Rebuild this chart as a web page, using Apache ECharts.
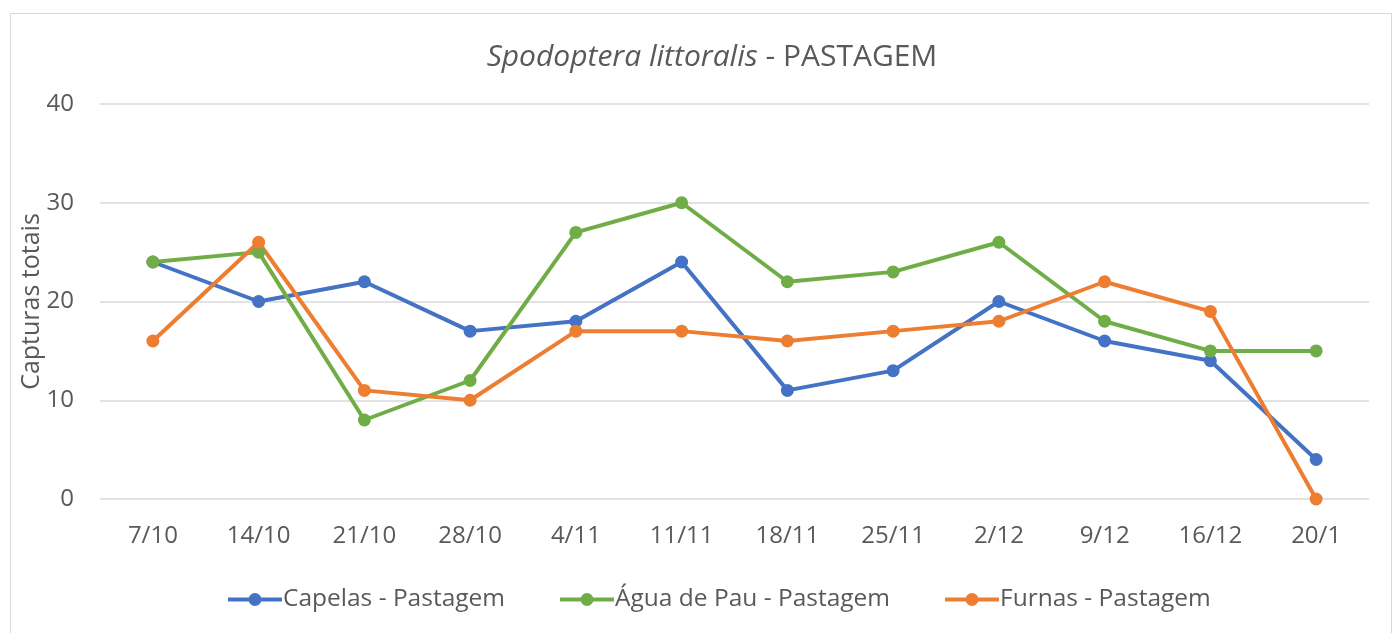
<!DOCTYPE html>
<html>
<head>
<meta charset="utf-8">
<script src="https://cdn.jsdelivr.net/npm/echarts@6/dist/echarts.min.js"></script>
<style>
  html, body { margin: 0; padding: 0; background: #fff; }
  #frame { position: absolute; left: 10px; top: 13px; width: 1382px; height: 640px; border: 1px solid #d9d9d9; box-sizing: border-box; }
  #chart { position: absolute; left: 0; top: 0; width: 1396px; height: 633px; }
</style>
</head>
<body>
<div id="frame"></div>
<div id="chart"></div>
<script>
  // dados
  var categorias = ['7/10', '14/10', '21/10', '28/10', '4/11', '11/11', '18/11', '25/11', '2/12', '9/12', '16/12', '20/1'];
  var capelas = [24, 20, 22, 17, 18, 24, 11, 13, 20, 16, 14, 4];
  var aguaDePau = [24, 25, 8, 12, 27, 30, 22, 23, 26, 18, 15, 15];
  var furnas = [16, 26, 11, 10, 17, 17, 16, 17, 18, 22, 19, 0];
  var nomes = ['Capelas - Pastagem', 'Água de Pau - Pastagem', 'Furnas - Pastagem'];
  var cores = ['#4472C4', '#70AD47', '#ED7D31'];

  var fonte = '"Open Sans", "Noto Sans", sans-serif';
  // ícone da legenda: traço grosso com círculo ao meio
  var iconeLegenda = 'path://M0,4.5 L54,4.5 L54,8.5 L0,8.5 Z M27,0 A6.5,6.5 0 1 1 27,13 A6.5,6.5 0 1 1 27,0 Z';

  function serie(nome, dados, cor) {
    return {
      name: nome,
      type: 'line',
      data: dados,
      symbol: 'circle',
      symbolSize: 13,
      lineStyle: { width: 4, color: cor },
      itemStyle: { color: cor }
    };
  }

  var chart = echarts.init(document.getElementById('chart'));
  chart.setOption({
    animation: false,
    title: {
      text: '{i|Spodoptera littoralis} - PASTAGEM',
      left: 707,
      textAlign: 'center',
      top: 37,
      textStyle: {
        fontFamily: fonte, fontSize: 30, fontWeight: 'normal', color: '#595959',
        rich: { i: { fontFamily: fonte, fontSize: 30, fontStyle: 'italic', color: '#595959' } }
      }
    },
    legend: {
      bottom: 16,
      left: 223,
      itemGap: 55,
      itemWidth: 54,
      itemHeight: 13,
      icon: iconeLegenda,
      data: nomes,
      textStyle: { fontFamily: fonte, fontSize: 24.5, color: '#595959', padding: [0, 0, 0, -4] }
    },
    grid: { left: 100, right: 27, top: 104, bottom: 134 },
    xAxis: {
      type: 'category',
      data: categorias,
      boundaryGap: true,
      axisLine: { show: false },
      axisTick: { show: false },
      axisLabel: { fontFamily: fonte, fontSize: 24, color: '#595959', margin: 25 }
    },
    yAxis: {
      type: 'value',
      min: 0, max: 40, interval: 10,
      name: 'Capturas totais',
      nameLocation: 'middle',
      nameGap: 56,
      nameMoveOverlap: false,
      nameTextStyle: { fontFamily: fonte, fontSize: 25, color: '#595959' },
      axisLabel: { fontFamily: fonte, fontSize: 24, color: '#595959', margin: 26 },
      splitLine: { lineStyle: { color: '#d9d9d9', width: 1.5 } }
    },
    series: [
      serie(nomes[0], capelas, cores[0]),
      serie(nomes[1], aguaDePau, cores[1]),
      serie(nomes[2], furnas, cores[2])
    ]
  });
</script>
</body>
</html>
